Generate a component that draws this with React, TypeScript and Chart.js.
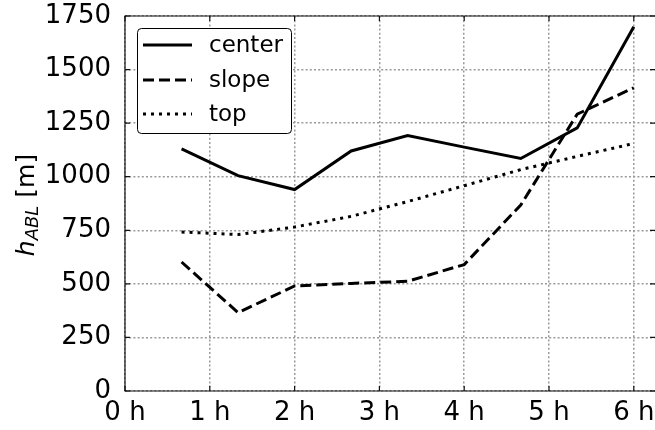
import { useEffect, useRef } from "react";
import { Chart, registerables } from "chart.js";

Chart.register(...registerables);

// Boundary-layer height per site, sampled every 40 minutes
const hours = [0.667, 1.333, 2, 2.667, 3.333, 4, 4.667, 5.333, 6];
const centerABL = [1130, 1005, 940, 1120, 1192, 1138, 1085, 1228, 1700];
const slopeABL = [602, 366, 490, 502, 512, 590, 868, 1292, 1415];
const topABL = [742, 730, 765, 815, 884, 958, 1033, 1095, 1155];

const seriesNames = ["center", "slope", "top"];
const seriesDash: number[][] = [[], [11, 5], [3, 5]];

const xTickValues = [0, 1, 2, 3, 4, 5, 6];
const yTickValues = [0, 250, 500, 750, 1000, 1250, 1500, 1750];

const FONT = "'DejaVu Sans', 'Liberation Sans', sans-serif";
const LINE_W = 3;

const toPoints = (ys: number[]) => hours.map((x, i) => ({ x, y: ys[i] }));

// Frame, inward tick marks, legend box and the y-axis title
const decorations = {
  id: "decorations",
  afterDatasetsDraw(chart: any) {
    const { ctx, chartArea: a, scales } = chart;
    const xs = scales.x;
    const ys = scales.y;
    ctx.save();

    // frame
    ctx.strokeStyle = "#111";
    ctx.lineWidth = 1.2;
    ctx.setLineDash([]);
    ctx.beginPath();
    ctx.moveTo(a.right + 1, a.top);
    ctx.lineTo(a.left, a.top);
    ctx.lineTo(a.left, a.bottom);
    ctx.lineTo(a.right + 1, a.bottom);
    ctx.stroke();

    // inward ticks
    const tl = 5;
    ctx.beginPath();
    for (const v of yTickValues) {
      const py = ys.getPixelForValue(v);
      ctx.moveTo(a.left, py);
      ctx.lineTo(a.left + tl, py);
      ctx.moveTo(a.right, py);
      ctx.lineTo(a.right - tl, py);
    }
    for (const v of xTickValues) {
      const px = xs.getPixelForValue(v);
      ctx.moveTo(px, a.bottom);
      ctx.lineTo(px, a.bottom - tl);
      ctx.moveTo(px, a.top);
      ctx.lineTo(px, a.top + tl);
    }
    ctx.stroke();

    // legend
    const bx = 137.5, by = 28.5, bw = 154, bh = 105;
    ctx.beginPath();
    ctx.roundRect(bx, by, bw, bh, 4);
    ctx.fillStyle = "#fff";
    ctx.fill();
    ctx.strokeStyle = "#000";
    ctx.lineWidth = 1;
    ctx.stroke();
    const rowY = [45, 80, 114];
    ctx.font = `23px ${FONT}`;
    ctx.textBaseline = "middle";
    ctx.textAlign = "left";
    seriesNames.forEach((name, i) => {
      ctx.beginPath();
      ctx.setLineDash(seriesDash[i]);
      ctx.lineWidth = LINE_W;
      ctx.strokeStyle = "#000";
      ctx.moveTo(143, rowY[i]);
      ctx.lineTo(192, rowY[i]);
      ctx.stroke();
      ctx.setLineDash([]);
      ctx.fillStyle = "#000";
      ctx.fillText(name, 209, rowY[i] + 1);
    });

    // y-axis title: h_ABL [m]
    ctx.translate(34, 205);
    ctx.rotate(-Math.PI / 2);
    ctx.textBaseline = "alphabetic";
    ctx.fillStyle = "#000";
    const big = `italic 25px ${FONT}`;
    const small = `italic 18px ${FONT}`;
    const plain = `25px ${FONT}`;
    ctx.font = big;
    const wH = ctx.measureText("h").width;
    ctx.font = small;
    const wSub = ctx.measureText("ABL").width;
    ctx.font = plain;
    const wUnit = ctx.measureText(" [m]").width;
    let x0 = -(wH + wSub + wUnit) / 2;
    ctx.font = big;
    ctx.fillText("h", x0, 0);
    x0 += wH;
    ctx.font = small;
    ctx.fillText("ABL", x0, 4);
    x0 += wSub;
    ctx.font = plain;
    ctx.fillText(" [m]", x0, 0);

    ctx.restore();
  },
};

export default function App() {
  const canvasRef = useRef<HTMLCanvasElement | null>(null);

  useEffect(() => {
    if (!canvasRef.current) return;
    Chart.defaults.font.family = FONT;
    const mk = (label: string, ys: number[], i: number) => ({
      label,
      data: toPoints(ys),
      borderColor: "#000",
      backgroundColor: "#000",
      borderWidth: LINE_W,
      borderDash: seriesDash[i],
      pointRadius: 0,
      tension: 0,
      fill: false,
    });
    const chart = new Chart(canvasRef.current, {
      type: "line",
      data: {
        datasets: [
          mk(seriesNames[0], centerABL, 0),
          mk(seriesNames[1], slopeABL, 1),
          mk(seriesNames[2], topABL, 2),
        ],
      },
      plugins: [decorations],
      options: {
        responsive: false,
        animation: false,
        layout: { padding: { top: 16, right: 0, left: 0, bottom: 0 } },
        plugins: { legend: { display: false }, tooltip: { enabled: false } },
        scales: {
          x: {
            type: "linear",
            min: 0,
            max: 6.25,
            afterBuildTicks: (s: any) => {
              s.ticks = xTickValues.map((v) => ({ value: v }));
            },
            afterFit: (s: any) => {
              s.height = 39;
              s.paddingLeft = 0;
              s.paddingRight = 0;
            },
            grid: { color: "#999", lineWidth: 1.5, drawTicks: false },
            border: { display: false, dash: [2, 2.2] },
            ticks: {
              color: "#000",
              font: { size: 26 },
              padding: 7,
              maxRotation: 0,
              autoSkip: false,
              callback: (v: any) => `${v} h`,
            },
          },
          y: {
            type: "linear",
            min: 0,
            max: 1750,
            afterBuildTicks: (s: any) => {
              s.ticks = yTickValues.map((v) => ({ value: v }));
            },
            afterFit: (s: any) => {
              s.width = 125;
              s.paddingTop = 0;
              s.paddingBottom = 0;
            },
            grid: { color: "#999", lineWidth: 1.5, drawTicks: false },
            border: { display: false, dash: [2, 2.2] },
            ticks: {
              color: "#000",
              font: { size: 26 },
              padding: 14,
              autoSkip: false,
              callback: (v: any) => String(v),
            },
          },
        },
      },
    });
    return () => chart.destroy();
  }, []);

  return (
    <div style={{ position: "fixed", left: 0, top: 0, width: 655, height: 430, background: "#fff" }}>
      <canvas ref={canvasRef} width={655} height={430} />
    </div>
  );
}
